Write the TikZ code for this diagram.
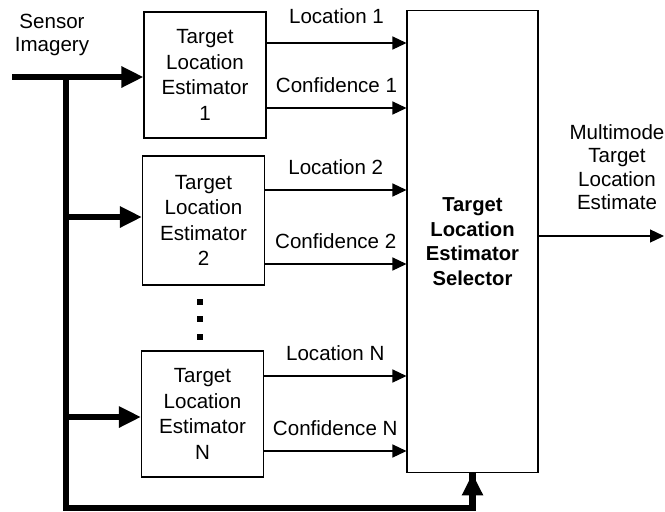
\documentclass[tikz,border=0pt]{standalone}
\usepackage{fontspec}
\setmainfont{Liberation Sans}
\usetikzlibrary{positioning,arrows.meta}

\begin{document}
\begin{tikzpicture}[x=0.02cm, y=-0.02cm,
    estbox/.style={draw, line width=0.6pt, minimum width=2.44cm, minimum height=2.52cm, inner sep=0pt, align=center, font=\fontsize{11.7}{14.5}\selectfont},
    sigline/.style={-{Triangle[length=0.28cm,width=0.26cm]}, line width=0.7pt},
    busline/.style={line width=0.13cm},
    busarrow/.style={busline, -{Triangle[length=0.44cm,width=0.4cm]}},
    siglabel/.style={midway, above=0.3cm, inner sep=0pt, font=\fontsize{11.7}{14}\selectfont}]
        \useasboundingbox (0,0) rectangle (665,511);
        % estimator boxes and selector
        \node[estbox] (est1) at (205,75) {Target\\Location\\Estimator\\1};
        \node[estbox, minimum height=2.58cm] (est2) at (203.5,220.5) {Target\\Location\\Estimator\\2};
        \node[estbox] (estN) at (202.5,414) {Target\\Location\\Estimator\\N};
        \node[draw, line width=0.6pt, minimum width=2.62cm, minimum height=9.26cm, align=center,
              font=\bfseries\fontsize{11.5}{14}\selectfont] (sel) at (472.5,241.5) {Target\\Location\\Estimator\\Selector};
        % dots between box 2 and box N
        \foreach \y in {299,316,334}
            \fill (197,\y) rectangle ++(6,6);
        % sensor input and bus
        \node[align=center, font=\fontsize{11.7}{13}\selectfont] (sensor) at (52,35) {Sensor\\Imagery};
        \coordinate (in) at (12,77);
        \coordinate (bus) at (66,77);
        \coordinate (busend) at (66,508);
        \draw[busarrow] (in) -- (est1.west |- in);
        \draw[busline] (bus) -- (busend) -| ([yshift=1pt]sel.south);
        \draw[busarrow] (busend -| sel.south) -- (sel.south);
        \draw[busarrow] (bus |- 0,217) -- (est2.west |- 0,217);
        \draw[busarrow] (bus |- 0,417) -- (estN.west |- 0,417);
        % outputs of the estimators
        \draw[sigline] (est1.east |- 0,43) -- node[siglabel, above=0.38cm]{Location 1} (sel.west |- 0,43);
        \draw[sigline] (est1.east |- 0,108) -- node[siglabel]{Confidence 1} (sel.west |- 0,108);
        \draw[sigline] (est2.east |- 0,190) -- node[siglabel]{Location 2} (sel.west |- 0,190);
        \draw[sigline] (est2.east |- 0,264) -- node[siglabel]{Confidence 2} (sel.west |- 0,264);
        \draw[sigline] (estN.east |- 0,376) -- node[siglabel]{Location N} (sel.west |- 0,376);
        \draw[sigline] (estN.east |- 0,451) -- node[siglabel]{Confidence N} (sel.west |- 0,451);
        % selector output
        \coordinate (out) at (664,236);
        \draw[sigline] (sel.east |- out) -- (out);
        \node[align=center, font=\fontsize{11.7}{13.3}\selectfont] (outlabel) at (617,167) {Multimode\\Target\\Location\\Estimate};
      \end{tikzpicture}
\end{document}
